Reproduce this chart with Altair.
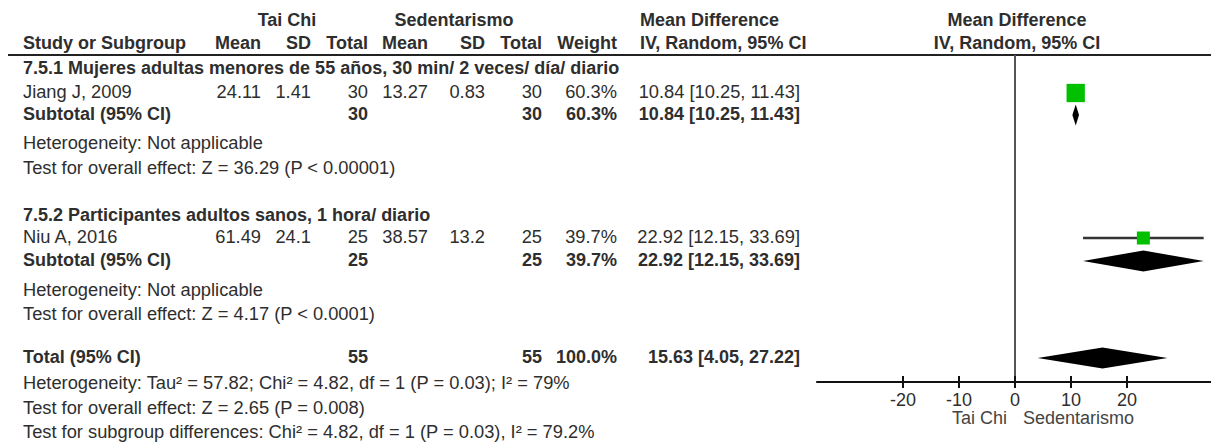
import altair as alt
import pandas as pd

# ---------------- data ----------------
subgroup_titles = [
    "7.5.1 Mujeres adultas menores de 55 años, 30 min/ 2 veces/ día/ diario",
    "7.5.2 Participantes adultos sanos, 1 hora/ diario",
]
studies = ["Jiang J, 2009", "Niu A, 2016"]
tc_mean = [24.11, 61.49]
tc_sd = [1.41, 24.1]
tc_total = [30, 25]
sed_mean = [13.27, 38.57]
sed_sd = [0.83, 13.2]
sed_total = [30, 25]
weights = [60.3, 39.7]
md = [10.84, 22.92]
ci_low = [10.25, 12.15]
ci_high = [11.43, 33.69]
sub_het = ["Heterogeneity: Not applicable", "Heterogeneity: Not applicable"]
sub_test = [
    "Test for overall effect: Z = 36.29 (P < 0.00001)",
    "Test for overall effect: Z = 4.17 (P < 0.0001)",
]
total_tc = 55
total_sed = 55
total_weight = 100.0
total_md = 15.63
total_low = 4.05
total_high = 27.22
total_notes = [
    "Heterogeneity: Tau² = 57.82; Chi² = 4.82, df = 1 (P = 0.03); I² = 79%",
    "Test for overall effect: Z = 2.65 (P = 0.008)",
    "Test for subgroup differences: Chi² = 4.82, df = 1 (P = 0.03), I² = 79.2%",
]
ticks = [-20, -10, 0, 10, 20]
favours = ["Tai Chi", "Sedentarismo"]

# ---------------- layout (reference pixel coordinates) ----------------
OFF = 8
W, H = 1203, 436
FONT = "Liberation Sans"
FS = 18
FS_REG = 18.3
TXT = "#2e2e2e"
AXIS_MIN, AXIS_MAX = -35.5, 37.5
HALF = 10.5  # diamond half height

COLS = {
    "study": (23, "left"),
    "tc_grp": (287, "center"),
    "sed_grp": (454, "center"),
    "tc_mean": (261, "right"),
    "tc_sd": (311, "right"),
    "tc_total": (368, "right"),
    "sed_mean": (428, "right"),
    "sed_sd": (485, "right"),
    "sed_total": (542, "right"),
    "weight": (617, "right"),
    "md_head": (640, "left"),
    "md": (800, "right"),
    "plot_head": (1017, "center"),
}
Y = {"h1": 21, "h2": 44, "rule": 55, "g1": 69, "s1": 93, "t1": 115, "het1": 144, "z1": 169,
     "g2": 216, "s2": 238, "t2": 261, "het2": 291, "z2": 315,
     "tot": 358, "het3": 384, "z3": 409, "sg": 433,
     "axis": 382, "ticklab": 401, "side": 419}

YS = alt.Scale(domain=[OFF, OFF + H], range=[0, H], nice=False, zero=False)
XS = alt.Scale(domain=[-35.5, 35.5], range=[1015 - OFF - 198.8, 1015 - OFF + 198.8],
               nice=False, zero=False)


def yenc(field):
    return alt.Y(field, scale=YS, axis=None, stack=None)


# ---------------- text table ----------------
items = []


def add(col, row, text, bold=False):
    items.append(dict(col=col, y=Y[row], text=text, bold=bold))


add("tc_grp", "h1", "Tai Chi", True)
add("sed_grp", "h1", "Sedentarismo", True)
add("md_head", "h1", "Mean Difference", True)
add("plot_head", "h1", "Mean Difference", True)
for col, t in [("study", "Study or Subgroup"), ("tc_mean", "Mean"), ("tc_sd", "SD"),
               ("tc_total", "Total"), ("sed_mean", "Mean"), ("sed_sd", "SD"),
               ("sed_total", "Total"), ("weight", "Weight"),
               ("md_head", "IV, Random, 95% CI"), ("plot_head", "IV, Random, 95% CI")]:
    add(col, "h2", t, True)

group_rows = [("g1", "s1", "t1", "het1", "z1"), ("g2", "s2", "t2", "het2", "z2")]
for i, (g, s, t, h, z) in enumerate(group_rows):
    mdtxt = f"{md[i]:.2f} [{ci_low[i]:.2f}, {ci_high[i]:.2f}]"
    add("study", g, subgroup_titles[i], True)
    add("study", s, studies[i])
    add("tc_mean", s, f"{tc_mean[i]}")
    add("tc_sd", s, f"{tc_sd[i]}")
    add("tc_total", s, f"{tc_total[i]}")
    add("sed_mean", s, f"{sed_mean[i]}")
    add("sed_sd", s, f"{sed_sd[i]}")
    add("sed_total", s, f"{sed_total[i]}")
    add("weight", s, f"{weights[i]:.1f}%")
    add("md", s, mdtxt)
    add("study", t, "Subtotal (95% CI)", True)
    add("tc_total", t, f"{tc_total[i]}", True)
    add("sed_total", t, f"{sed_total[i]}", True)
    add("weight", t, f"{weights[i]:.1f}%", True)
    add("md", t, mdtxt, True)
    add("study", h, sub_het[i])
    add("study", z, sub_test[i])

add("study", "tot", "Total (95% CI)", True)
add("tc_total", "tot", f"{total_tc}", True)
add("sed_total", "tot", f"{total_sed}", True)
add("weight", "tot", f"{total_weight:.1f}%", True)
add("md", "tot", f"{total_md:.2f} [{total_low:.2f}, {total_high:.2f}]", True)
for row, note in zip(["het3", "z3", "sg"], total_notes):
    add("study", row, note)

tdf = pd.DataFrame(items)
layers = []

# header rule
layers.append(
    alt.Chart(pd.DataFrame({"y": [Y["rule"]]}))
    .mark_rule(color="#222222", strokeWidth=2)
    .encode(x=alt.value(0), x2=alt.value(W), y=yenc("y:Q"))
)

# zero line
layers.append(
    alt.Chart(pd.DataFrame({"x": [0], "y": [Y["rule"]], "y2": [Y["axis"]]}))
    .mark_rule(color="#555555", strokeWidth=2)
    .encode(x=alt.X("x:Q", scale=XS, axis=None), y=yenc("y:Q"), y2="y2:Q")
)

# axis line
layers.append(
    alt.Chart(pd.DataFrame({"x": [AXIS_MIN], "x2": [AXIS_MAX], "y": [Y["axis"]]}))
    .mark_rule(color="#111111", strokeWidth=2)
    .encode(x=alt.X("x:Q", scale=XS, axis=None), x2="x2:Q", y=yenc("y:Q"))
)

tick_df = pd.DataFrame({"t": ticks, "y": [Y["axis"] - 6] * len(ticks),
                        "y2": [Y["axis"] + 6] * len(ticks),
                        "yl": [Y["ticklab"]] * len(ticks),
                        "lab": [str(t) for t in ticks]})
layers.append(
    alt.Chart(tick_df).mark_rule(color="#111111", strokeWidth=2)
    .encode(x=alt.X("t:Q", scale=XS, axis=None), y=yenc("y:Q"), y2="y2:Q")
)
layers.append(
    alt.Chart(tick_df).mark_text(font=FONT, fontSize=FS, color=TXT, baseline="middle")
    .encode(x=alt.X("t:Q", scale=XS, axis=None), y=yenc("yl:Q"), text="lab:N")
)

side_df = pd.DataFrame({"x": [0], "y": [Y["side"]]})
layers.append(
    alt.Chart(side_df).mark_text(font=FONT, fontSize=FS, color="#444444", align="right",
                                 baseline="middle", dx=-8, text=favours[0])
    .encode(x=alt.X("x:Q", scale=XS, axis=None), y=yenc("y:Q"))
)
layers.append(
    alt.Chart(side_df).mark_text(font=FONT, fontSize=FS, color="#444444", align="left",
                                 baseline="middle", dx=8, text=favours[1])
    .encode(x=alt.X("x:Q", scale=XS, axis=None), y=yenc("y:Q"))
)

# study CIs and squares
study_df = pd.DataFrame(dict(md=md, lo=ci_low, hi=ci_high, w=weights, y=[Y["s1"], Y["s2"]]))
layers.append(
    alt.Chart(study_df).mark_rule(color="#333333", strokeWidth=2.5)
    .encode(x=alt.X("lo:Q", scale=XS, axis=None), x2="hi:Q", y=yenc("y:Q"))
)
layers.append(
    alt.Chart(study_df).mark_square(color="#00c000", opacity=1)
    .encode(x=alt.X("md:Q", scale=XS, axis=None), y=yenc("y:Q"),
            size=alt.Size("w:Q", scale=alt.Scale(domain=[39.7, 60.3], range=[169, 335]),
                          legend=None))
)

# diamonds
dia_src = [("sub1", md[0], ci_low[0], ci_high[0], Y["t1"]),
           ("sub2", md[1], ci_low[1], ci_high[1], Y["t2"]),
           ("total", total_md, total_low, total_high, Y["tot"])]
drows = []
for key, m, lo, hi, y in dia_src:
    drows += [dict(key=key, x=lo, yt=y, yb=y),
              dict(key=key, x=m, yt=y - HALF, yb=y + HALF),
              dict(key=key, x=hi, yt=y, yb=y)]
layers.append(
    alt.Chart(pd.DataFrame(drows))
    .mark_area(color="black", interpolate="linear", opacity=1, orient="vertical")
    .encode(x=alt.X("x:Q", scale=XS, axis=None), y=yenc("yt:Q"), y2="yb:Q",
            detail="key:N")
)

# text layers
for (col, bold), sub in tdf.groupby(["col", "bold"]):
    x, align = COLS[col]
    layers.append(
        alt.Chart(sub.reset_index(drop=True))
        .mark_text(align=align, baseline="middle", font=FONT,
                   fontSize=FS if bold else FS_REG,
                   fontWeight="bold" if bold else "normal", color=TXT)
        .encode(x=alt.value(x - OFF), y=yenc("y:Q"), text="text:N")
    )

chart = (
    alt.layer(*layers)
    .properties(width=W, height=H, autosize=alt.AutoSizeParams(type="none"), padding=0)
    .configure_view(stroke=None)
)

chart.save("out.html", embed_options={"renderer": "svg", "actions": False})
